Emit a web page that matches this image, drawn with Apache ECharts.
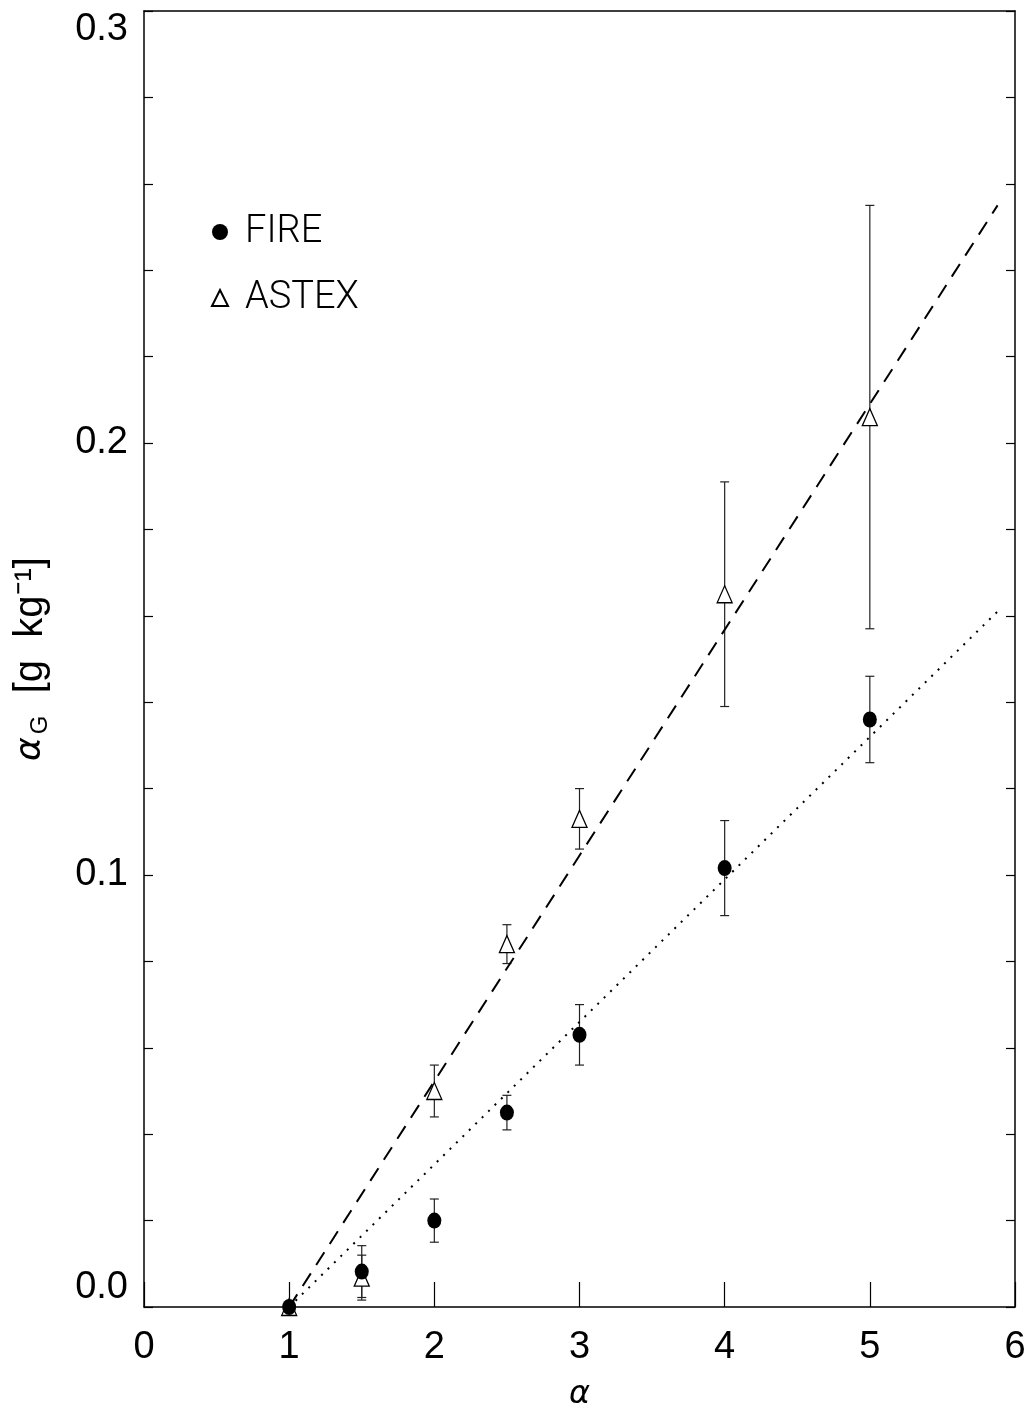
<!DOCTYPE html>
<html><head><meta charset="utf-8">
<script src="https://cdn.jsdelivr.net/npm/echarts@6/dist/echarts.min.js"></script>
<style>html,body{margin:0;padding:0;background:#fff}#c{width:1029px;height:1421px}</style>
</head><body><div id="c"></div>
<script>
const xTicks = [0,1,2,3,4,5,6];
const yTickLabels = ['0.0','0.1','0.2','0.3'];
// FIRE: [alpha, alphaG, err]
const fireX = [1, 1.5, 2, 2.5, 3, 4, 5];
const fireY = [0, 0.0082, 0.020, 0.045, 0.063, 0.1016, 0.136];
const fireErr = [0, 0.006, 0.005, 0.004, 0.007, 0.011, 0.010];
// ASTEX
const astexX = [1, 1.5, 2, 2.5, 3, 4, 5];
const astexY = [0, 0.0068, 0.050, 0.084, 0.113, 0.165, 0.206];
const astexErr = [0, 0.0052, 0.006, 0.0045, 0.007, 0.026, 0.049];
// fit lines (endpoints)
const astexFit = [[1.0, 0], [5.88, 0.255]];
const fireFit = [[1.0, 0], [5.88, 0.161]];

const font = '"Liberation Sans", Arial, sans-serif';
const lfont = 'Roboto, "Liberation Sans", sans-serif';
const chart = echarts.init(document.getElementById('c'), null, {renderer:'canvas'});

function errSeries(xs, ys, es){
  const data = xs.map((x,i)=>[x, ys[i]-es[i], ys[i]+es[i]]).filter((d,i)=>es[i]>0);
  return {
    type:'custom', silent:true, z:1,
    data,
    renderItem(params, api){
      const x = api.value(0);
      const lo = api.coord([x, api.value(1)]);
      const hi = api.coord([x, api.value(2)]);
      const w = 4.5;
      const st = {stroke:'#222', lineWidth:1.2};
      return {type:'group', children:[
        {type:'line', shape:{x1:lo[0],y1:lo[1],x2:hi[0],y2:hi[1]}, style:st},
        {type:'line', shape:{x1:lo[0]-w,y1:lo[1],x2:lo[0]+w,y2:lo[1]}, style:st},
        {type:'line', shape:{x1:hi[0]-w,y1:hi[1],x2:hi[0]+w,y2:hi[1]}, style:st}
      ]};
    }
  };
}

chart.setOption({
  animation:false,
  backgroundColor:'#fff',
  grid:{left:144, right:14, top:11, bottom:114, outerBoundsMode:'none', containLabel:false},
  legend:{
    orient:'vertical', left:206, top:208, itemGap:28,
    itemWidth:16, itemHeight:16,
    data:['FIRE','ASTEX'],
    textStyle:{fontFamily:lfont, fontWeight:300, fontSize:38, color:'#000', padding:[0,0,0,12]}
  },
  xAxis:[{
    type:'value', min:0, max:6, interval:1, position:'bottom',
    axisLine:{show:true, lineStyle:{color:'#000', width:1.5}},
    axisTick:{show:true, inside:true, length:25, lineStyle:{color:'#000', width:1.2}},
    axisLabel:{fontFamily:font, fontSize:38, color:'#000', margin:22,
      formatter:v=>String(xTicks[Math.round(v)])},
    splitLine:{show:false},
    name:'α', nameLocation:'middle', nameGap:72,
    nameTextStyle:{fontFamily:'"DejaVu Sans", sans-serif', fontStyle:'italic', fontSize:32, color:'#000'}
  },{
    type:'value', min:0, max:6, interval:1, position:'top',
    axisLine:{show:true, onZero:false, lineStyle:{color:'#000', width:1.5}},
    axisTick:{show:false}, axisLabel:{show:false}, splitLine:{show:false}
  }],
  yAxis:[{
    type:'value', min:0, max:0.3, interval:0.1, position:'left',
    axisLine:{show:true, lineStyle:{color:'#000', width:1.5}},
    axisTick:{show:true, inside:true, length:9, lineStyle:{color:'#000', width:1.2}},
    minorTick:{show:true, splitNumber:5, length:9, lineStyle:{color:'#000', width:1.2}},
    axisLabel:{fontFamily:font, fontSize:38, color:'#000', margin:16,
      verticalAlignMinLabel:'bottom', verticalAlignMaxLabel:'top',
      formatter:v=>yTickLabels[Math.round(v*10)]},
    splitLine:{show:false}, minorSplitLine:{show:false},
    name:'{a|α}{sub|G}{b|  [g  kg⁻¹]}', nameLocation:'middle', nameGap:92, nameRotate:90,
    nameTextStyle:{color:'#000', rich:{
      a:{fontFamily:'"DejaVu Sans", sans-serif', fontStyle:'italic', fontSize:36, color:'#000'},
      sub:{fontFamily:font, fontSize:24, color:'#000', padding:[18,0,0,3]},
      b:{fontFamily:font, fontSize:40, color:'#000'}
    }}
  },{
    type:'value', min:0, max:0.3, interval:0.1, position:'right',
    axisLine:{show:true, onZero:false, lineStyle:{color:'#000', width:1.5}},
    axisTick:{show:true, inside:true, length:9, lineStyle:{color:'#000', width:1.2}},
    minorTick:{show:true, splitNumber:5, length:9, lineStyle:{color:'#000', width:1.2}},
    axisLabel:{show:false}, splitLine:{show:false}, minorSplitLine:{show:false}
  }],
  series:[
    errSeries(fireX, fireY, fireErr),
    errSeries(astexX, astexY, astexErr),
    {type:'line', data:astexFit, symbol:'none', silent:true, z:2,
      lineStyle:{color:'#000', width:2, type:[15,10]}},
    {type:'line', data:fireFit, symbol:'none', silent:true, z:2,
      lineStyle:{color:'#000', width:2, type:[2,7]}},
    {name:'ASTEX', type:'scatter', z:3, symbol:'triangle', symbolSize:[15,17],
      itemStyle:{color:'#fff', borderColor:'#000', borderWidth:1.3, opacity:1},
      data:astexX.map((x,i)=>[x, astexY[i]])},
    {name:'FIRE', type:'scatter', z:4, symbol:'circle', symbolSize:[14,16],
      itemStyle:{color:'#000', opacity:1},
      data:fireX.map((x,i)=>[x, fireY[i]])}
  ]
});
</script></body></html>
